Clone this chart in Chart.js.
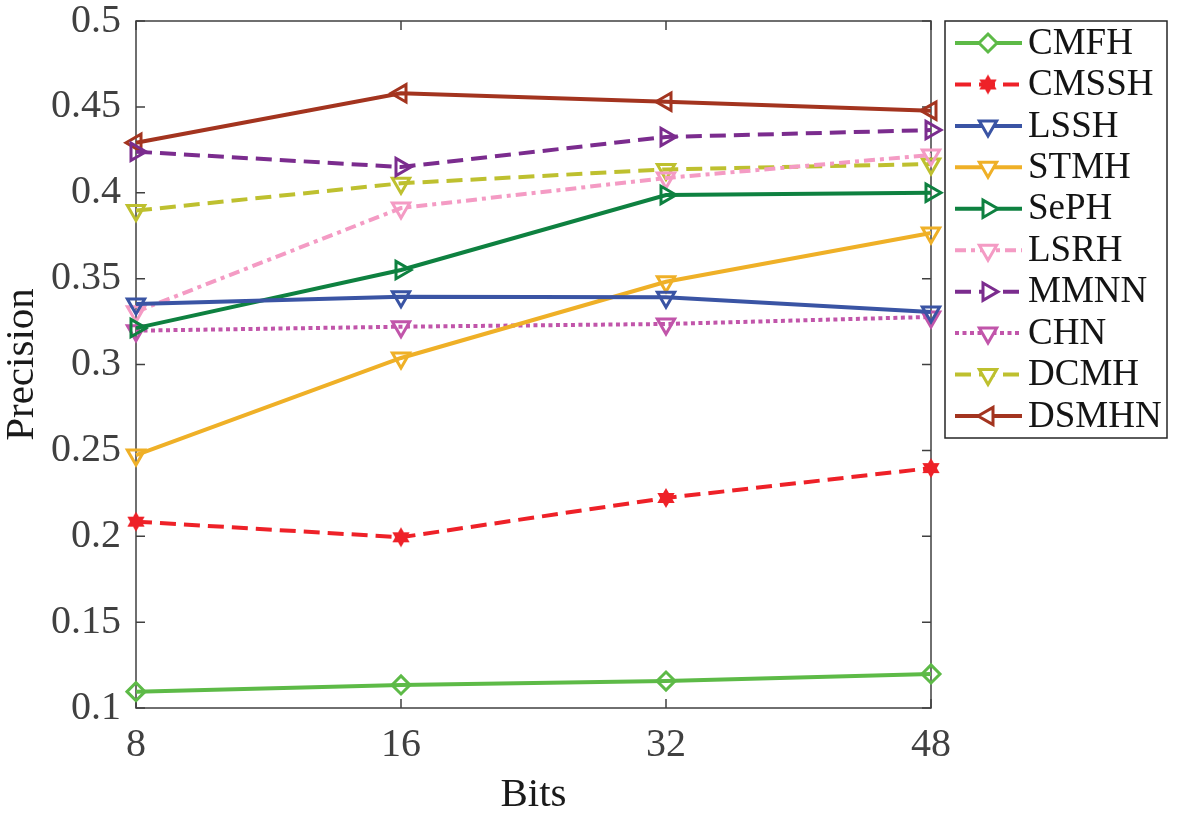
<!DOCTYPE html>
<html><head><meta charset="utf-8">
<script src="https://cdn.jsdelivr.net/npm/chart.js@4.4.1/dist/chart.umd.min.js"></script>
<style>html,body{margin:0;padding:0;background:#fff;}</style>
</head><body>
<canvas id="c" width="1184" height="817"></canvas>
<script>
// ---- data ----
const bits = ['8', '16', '32', '48'];
const yTickValues = [0.1, 0.15, 0.2, 0.25, 0.3, 0.35, 0.4, 0.45, 0.5];
const seriesNames = ['CMFH', 'CMSSH', 'LSSH', 'STMH', 'SePH', 'LSRH', 'MMNN', 'CHN', 'DCMH', 'DSMHN'];
const CMFH  = [0.1095, 0.1134, 0.1157, 0.1198];
const CMSSH = [0.2085, 0.1994, 0.2223, 0.2397];
const LSSH  = [0.3352, 0.3395, 0.3392, 0.3306];
const STMH  = [0.2473, 0.3038, 0.3482, 0.3766];
const SePH  = [0.3212, 0.3550, 0.3987, 0.4000];
const LSRH  = [0.3307, 0.3911, 0.4086, 0.4220];
const MMNN  = [0.4239, 0.4150, 0.4325, 0.4365];
const CHN   = [0.3197, 0.3220, 0.3236, 0.3277];
const DCMH  = [0.3896, 0.4055, 0.4136, 0.4167];
const DSMHN = [0.4291, 0.4579, 0.4530, 0.4478];
const seriesValues = [CMFH, CMSSH, LSSH, STMH, SePH, LSRH, MMNN, CHN, DCMH, DSMHN];

// ---- styles ----
const colors = ['#5DBA47', '#EE2128', '#3A54A4', '#EFB027', '#0E8140', '#F49BC4', '#7B2C8E', '#C155AA', '#BEC02F', '#A3341F'];
const dashes = [[], [16, 8], [], [], [], [11, 5, 4, 5], [16, 8], [4, 3.5], [16, 8], []];
const markers = ['diamond', 'star', 'down', 'down', 'right', 'down', 'right', 'down', 'down', 'left'];

function starCanvas(color, r) {
  const s = Math.ceil(r * 2 + 4);
  const cv = document.createElement('canvas');
  cv.width = s; cv.height = s;
  const g = cv.getContext('2d');
  const cx = s / 2, cy = s / 2;
  g.fillStyle = color;
  for (let k = 0; k < 2; k++) {
    g.beginPath();
    for (let i = 0; i < 3; i++) {
      const a = (k * 60 + i * 120 - 90) * Math.PI / 180;
      const px = cx + r * Math.cos(a), py = cy + r * Math.sin(a);
      if (i === 0) g.moveTo(px, py); else g.lineTo(px, py);
    }
    g.closePath();
    g.fill();
  }
  return cv;
}

function pointOpts(m, color) {
  if (m === 'diamond') return {pointStyle: 'rectRot', pointRotation: 0, pointRadius: 9};
  if (m === 'star') return {pointStyle: starCanvas(color, 10), pointRotation: 0, pointRadius: 10};
  if (m === 'down') return {pointStyle: 'triangle', pointRotation: 180, pointRadius: 10};
  if (m === 'right') return {pointStyle: 'triangle', pointRotation: 90, pointRadius: 10};
  return {pointStyle: 'triangle', pointRotation: 270, pointRadius: 10};
}

const datasets = seriesNames.map((name, i) => Object.assign({
  label: name,
  data: seriesValues[i],
  borderColor: colors[i],
  backgroundColor: 'rgba(255,255,255,0)',
  borderWidth: 4,
  borderDash: dashes[i],
  pointBorderColor: colors[i],
  pointBackgroundColor: 'rgba(255,255,255,0)',
  pointBorderWidth: 3,
  tension: 0,
  clip: false,
  _marker: markers[i]
}, pointOpts(markers[i], colors[i])));

const FONT = "'Liberation Serif', 'Times New Roman', serif";
const AXIS_COLOR = '#404040';

function drawMarker(ctx, m, x, y, r, color) {
  ctx.save();
  ctx.strokeStyle = color; ctx.fillStyle = color; ctx.lineWidth = 3; ctx.setLineDash([]);
  ctx.beginPath();
  if (m === 'diamond') {
    ctx.moveTo(x, y - r); ctx.lineTo(x + r, y); ctx.lineTo(x, y + r); ctx.lineTo(x - r, y); ctx.closePath();
    ctx.fillStyle = '#fff'; ctx.fill(); ctx.stroke();
  } else if (m === 'star') {
    const cv = starCanvas(color, r);
    ctx.drawImage(cv, x - cv.width / 2, y - cv.height / 2);
  } else {
    const rot = m === 'down' ? 180 : (m === 'right' ? 90 : 270);
    let a = rot * Math.PI / 180;
    for (let i = 0; i < 3; i++) {
      const px = x + Math.sin(a) * r, py = y - Math.cos(a) * r;
      if (i === 0) ctx.moveTo(px, py); else ctx.lineTo(px, py);
      a += 2 * Math.PI / 3;
    }
    ctx.closePath();
    ctx.fillStyle = '#fff'; ctx.fill(); ctx.stroke();
  }
  ctx.restore();
}

const framePlugin = {
  id: 'frame',
  beforeDatasetsDraw(chart) {
    const {ctx, chartArea: a, scales} = chart;
    ctx.save();
    ctx.strokeStyle = AXIS_COLOR; ctx.lineWidth = 1.5;
    ctx.strokeRect(a.left, a.top, a.right - a.left, a.bottom - a.top);
    const tl = 9;
    ctx.beginPath();
    scales.y.ticks.forEach(t => {
      const py = scales.y.getPixelForValue(t.value);
      ctx.moveTo(a.left, py); ctx.lineTo(a.left + tl, py);
      ctx.moveTo(a.right, py); ctx.lineTo(a.right - tl, py);
    });
    scales.x.ticks.forEach((t, i) => {
      const px = scales.x.getPixelForTick(i);
      ctx.moveTo(px, a.bottom); ctx.lineTo(px, a.bottom - tl);
      ctx.moveTo(px, a.top); ctx.lineTo(px, a.top + tl);
    });
    ctx.stroke();
    ctx.restore();
  },
  afterDraw(chart) {
    const {ctx, chartArea: a} = chart;
    const x0 = a.right + 14, y0 = a.top, x1 = chart.width - 17, y1 = 438;
    ctx.save();
    ctx.fillStyle = '#fff';
    ctx.fillRect(x0, y0, x1 - x0, y1 - y0);
    ctx.strokeStyle = '#262626'; ctx.lineWidth = 1.5;
    ctx.strokeRect(x0, y0, x1 - x0, y1 - y0);
    const n = chart.data.datasets.length;
    const step = (y1 - y0 - 44) / (n - 1);
    chart.data.datasets.forEach((ds, i) => {
      const cy = y0 + 22 + i * step;
      ctx.save();
      ctx.strokeStyle = ds.borderColor; ctx.lineWidth = 4;
      ctx.setLineDash(ds.borderDash || []);
      ctx.beginPath();
      ctx.moveTo(x0 + 10, cy); ctx.lineTo(x0 + 77, cy);
      ctx.stroke();
      ctx.restore();
      drawMarker(ctx, ds._marker, x0 + 43, cy, ds._marker === 'diamond' ? 9 : 10, ds.borderColor);
      ctx.fillStyle = '#141414';
      ctx.font = '37px ' + FONT;
      ctx.textBaseline = 'middle';
      ctx.textAlign = 'left';
      ctx.fillText(ds.label, x0 + 83, cy + 1);
    });
    ctx.restore();
  }
};

new Chart(document.getElementById('c'), {
  type: 'line',
  data: {labels: bits, datasets},
  plugins: [framePlugin],
  options: {
    responsive: false,
    devicePixelRatio: 1,
    animation: false,
    layout: {padding: {left: 0, top: 21, right: 253, bottom: 0}},
    plugins: {legend: {display: false}, tooltip: {enabled: false}},
    scales: {
      x: {
        type: 'category',
        offset: false,
        grid: {display: false, drawTicks: false},
        border: {display: false},
        ticks: {font: {family: FONT, size: 40, lineHeight: 1}, color: AXIS_COLOR, padding: 17, maxRotation: 0, autoSkip: false},
        title: {display: true, text: 'Bits', font: {family: FONT, size: 41, lineHeight: 1}, color: '#1a1a1a', padding: {top: 0, bottom: 1}},
        afterFit(s) { s.height = 109; }
      },
      y: {
        min: 0.1, max: 0.5,
        grid: {display: false, drawTicks: false},
        border: {display: false},
        afterBuildTicks(s) { s.ticks = yTickValues.map(v => ({value: v})); },
        ticks: {font: {family: FONT, size: 40, lineHeight: 0.1}, color: AXIS_COLOR, padding: 15,
          callback: v => String(Number(v.toFixed(2)))},
        title: {display: true, text: 'Precision', font: {family: FONT, size: 41, lineHeight: 1.1}, color: '#1a1a1a', padding: {top: 0, bottom: 0}},
        afterFit(s) { s.width = 136; }
      }
    }
  }
});
</script>
</body></html>
